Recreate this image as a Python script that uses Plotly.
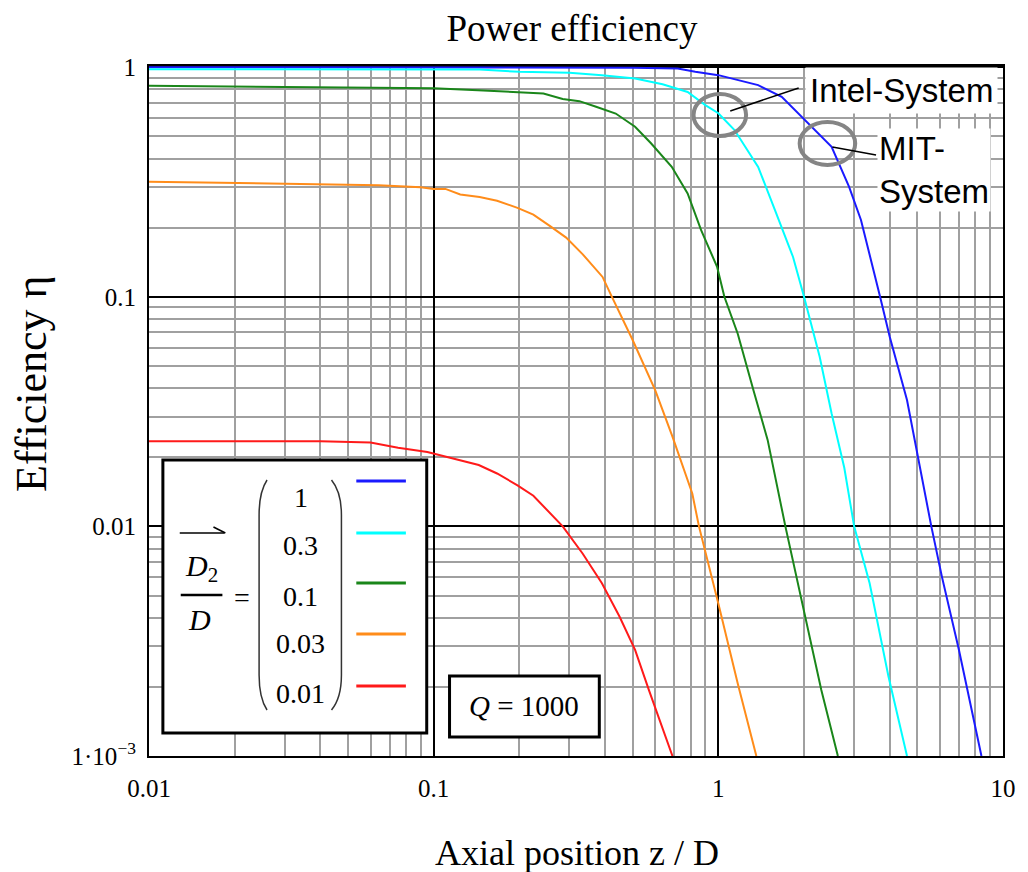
import plotly.graph_objects as go

# ---------------- data ----------------
ratio_labels = ["1", "0.3", "0.1", "0.03", "0.01"]

x_r100 = [0.01, 0.1, 0.3, 0.5, 0.72, 0.83, 1.0, 1.38, 1.67, 2.05, 2.5, 2.88, 3.17, 3.7, 4.0, 4.6, 5.0, 5.6, 6.1, 7.0, 8.4]
y_r100 = [1.0, 1.0, 0.998, 0.995, 0.987, 0.954, 0.923, 0.835, 0.743, 0.578, 0.45, 0.301, 0.216, 0.1, 0.067, 0.0355, 0.0208, 0.01, 0.00604, 0.0029, 0.001]

x_r030 = [0.01, 0.1, 0.145, 0.2, 0.3, 0.39, 0.51, 0.637, 0.78, 0.9, 1.0, 1.14, 1.38, 1.58, 1.83, 2.0, 2.27, 2.5, 2.77, 3.0, 3.4, 3.96, 4.6]
y_r030 = [0.98, 0.98, 0.977, 0.954, 0.945, 0.923, 0.893, 0.843, 0.78, 0.683, 0.63, 0.532, 0.368, 0.239, 0.149, 0.1, 0.0548, 0.031, 0.018, 0.01, 0.00565, 0.00222, 0.001]

x_r010 = [0.01, 0.075, 0.1, 0.143, 0.197, 0.243, 0.284, 0.325, 0.372, 0.436, 0.51, 0.58, 0.686, 0.78, 0.87, 0.99, 1.05, 1.17, 1.33, 1.49, 1.72, 2.0, 2.3, 2.63]
y_r010 = [0.83, 0.81, 0.81, 0.794, 0.776, 0.768, 0.726, 0.711, 0.672, 0.628, 0.55, 0.466, 0.368, 0.282, 0.195, 0.135, 0.1, 0.069, 0.039, 0.0238, 0.01, 0.0042, 0.00194, 0.001]

x_r003 = [0.01, 0.064, 0.09, 0.1, 0.11, 0.124, 0.145, 0.167, 0.197, 0.224, 0.255, 0.292, 0.334, 0.392, 0.42, 0.5, 0.6, 0.69, 0.81, 0.855, 1.0, 1.17, 1.36]
y_r003 = [0.317, 0.306, 0.30, 0.295, 0.295, 0.279, 0.272, 0.262, 0.244, 0.228, 0.204, 0.181, 0.153, 0.122, 0.1016, 0.0648, 0.0392, 0.0246, 0.0139, 0.01, 0.00462, 0.00207, 0.001]

x_r001 = [0.01, 0.04, 0.06, 0.075, 0.095, 0.115, 0.144, 0.167, 0.197, 0.224, 0.25, 0.284, 0.334, 0.39, 0.45, 0.51, 0.57, 0.69]
y_r001 = [0.0235, 0.0235, 0.0232, 0.022, 0.0211, 0.0198, 0.0185, 0.017, 0.0151, 0.0136, 0.0118, 0.01, 0.0076, 0.00565, 0.00404, 0.0029, 0.00194, 0.001]

colors = ["#1a1aff", "#00ffff", "#1a861a", "#ff8c1a", "#ff1a1a"]

x_ticks = [0.01, 0.1, 1, 10]
x_ticktext = ["0.01", "0.1", "1", "10"]
y_ticks = [0.001, 0.01, 0.1, 1]
y_ticktext = ["1\u00b710<sup>\u22123</sup>", "0.01", "0.1", "1"]

# ---------------- figure ----------------
# the page body adds an 8 px margin, so the figure is 8 px smaller and all
# decoration positions below are given in page pixels
OFF = 8
W, H = 1020, 864
L, R, T, B = 141, 18, 58, 116
PL, PR, PT, PB = L + OFF, W - R + OFF, T + OFF, H - B + OFF   # plot box in page pixels

def X(px):
    return (px - PL) / (PR - PL)

def Y(py):
    return (PB - py) / (PB - PT)

serif = "Liberation Serif, Times New Roman, serif"
sans = "Liberation Sans, Arial, sans-serif"

fig = go.Figure()
series = [(x_r100, y_r100), (x_r030, y_r030), (x_r010, y_r010), (x_r003, y_r003), (x_r001, y_r001)]
for (xs, ys), lab, c in zip(series, ratio_labels, colors):
    fig.add_trace(go.Scatter(x=xs, y=ys, mode="lines", name="D2/D = " + lab,
                             line=dict(color=c, width=2), showlegend=False))

minor_x = [m * 10 ** e for e in (-2, -1, 0) for m in range(2, 10)]
minor_y = [m * 10 ** e for e in (-3, -2, -1) for m in range(2, 10)]

tick_font = dict(family=serif, size=25, color="black")

fig.update_xaxes(type="log", range=[-2, 1], tickmode="array", tickvals=x_ticks, ticktext=x_ticktext,
                 showgrid=True, gridcolor="black", gridwidth=2,
                 showline=True, linecolor="black", linewidth=2, mirror=True,
                 ticks="", zeroline=False, layer="below traces",
                 tickfont=tick_font, ticklabelstandoff=9,
                 minor=dict(tickmode="array", tickvals=minor_x, showgrid=True, gridcolor="#a0a0a0",
                            gridwidth=1.5, ticks=""))
fig.update_yaxes(type="log", range=[-3, 0.005], tickmode="array", tickvals=y_ticks, ticktext=y_ticktext,
                 showgrid=True, gridcolor="black", gridwidth=2,
                 showline=True, linecolor="black", linewidth=2, mirror=True,
                 ticks="", zeroline=False, layer="below traces",
                 tickfont=tick_font, ticklabelstandoff=6,
                 minor=dict(tickmode="array", tickvals=minor_y, showgrid=True, gridcolor="#a0a0a0",
                            gridwidth=1.5, ticks=""))

shapes = []
annotations = []

# legend box
shapes.append(dict(type="rect", xref="paper", yref="paper", x0=X(163), x1=X(429), y0=Y(733), y1=Y(460),
                   line=dict(color="black", width=3), fillcolor="white", layer="above"))
# Q box
shapes.append(dict(type="rect", xref="paper", yref="paper", x0=X(452), x1=X(603), y0=Y(737), y1=Y(676),
                   line=dict(color="black", width=3), fillcolor="white", layer="above"))

# legend colour samples and matrix values
leg_y = [481, 533, 583, 634, 686]
val_y = [497, 545, 596, 643, 693]
for c, ly, vy, lab in zip(colors, leg_y, val_y, ratio_labels):
    shapes.append(dict(type="line", xref="paper", yref="paper", x0=X(358), x1=X(408), y0=Y(ly), y1=Y(ly),
                       line=dict(color=c, width=3), layer="above"))
    annotations.append(dict(text=lab, xref="paper", yref="paper", x=X(302), y=Y(vy), showarrow=False,
                            xanchor="center", yanchor="middle", font=dict(family=serif, size=28, color="black")))

def path(points):
    (x0, y0), rest = points[0], points[1:]
    s = f"M {X(x0)},{Y(y0)}"
    for cmd, pts in rest:
        s += " " + cmd + " " + " ".join(f"{X(a)},{Y(b)}" for a, b in pts)
    return s

lp = path([(268, 480), ("Q", [(260, 492), (260, 515)]), ("L", [(260, 675)]), ("Q", [(260, 698), (268, 710)])])
rp = path([(333, 480), ("Q", [(343, 492), (343, 515)]), ("L", [(343, 675)]), ("Q", [(343, 698), (333, 710)])])
for p in (lp, rp):
    shapes.append(dict(type="path", xref="paper", yref="paper", path=p,
                       line=dict(color="#333333", width=1.5), layer="above"))

# fraction D2 / D with vector arrow
shapes.append(dict(type="line", xref="paper", yref="paper", x0=X(181), x1=X(223), y0=Y(595), y1=Y(595),
                   line=dict(color="black", width=2.5), layer="above"))
shapes.append(dict(type="line", xref="paper", yref="paper", x0=X(180), x1=X(225), y0=Y(533), y1=Y(533),
                   line=dict(color="black", width=1.5), layer="above"))
shapes.append(dict(type="path", xref="paper", yref="paper",
                   path=path([(214, 527), ("L", [(226, 533), (214, 539)])]),
                   line=dict(color="black", width=1.5), layer="above"))
annotations.append(dict(text="<i>D</i><sub>2</sub>", xref="paper", yref="paper", x=X(202), y=Y(568),
                        showarrow=False, xanchor="center", yanchor="middle",
                        font=dict(family=serif, size=30, color="black")))
annotations.append(dict(text="<i>D</i>", xref="paper", yref="paper", x=X(200), y=Y(619),
                        showarrow=False, xanchor="center", yanchor="middle",
                        font=dict(family=serif, size=30, color="black")))
annotations.append(dict(text="=", xref="paper", yref="paper", x=X(243), y=Y(597),
                        showarrow=False, xanchor="center", yanchor="middle",
                        font=dict(family=serif, size=28, color="black")))
annotations.append(dict(text="<i>Q</i> = 1000", xref="paper", yref="paper", x=X(527), y=Y(706),
                        showarrow=False, xanchor="center", yanchor="middle",
                        font=dict(family=serif, size=29, color="black")))

# system call-outs
annotations.append(dict(text="Intel-System", xref="paper", yref="paper", x=X(810), y=Y(90),
                        showarrow=False, xanchor="left", yanchor="middle", bgcolor="white", borderpad=4,
                        font=dict(family=sans, size=33, color="black")))
annotations.append(dict(text="MIT-<br>System", xref="paper", yref="paper", x=X(883), y=Y(170),
                        showarrow=False, xanchor="left", yanchor="middle", align="left",
                        bgcolor="white", borderpad=1,
                        font=dict(family=sans, size=33, color="black")))
shapes.append(dict(type="circle", xref="paper", yref="paper", x0=X(698), x1=X(751), y0=Y(136), y1=Y(94),
                   line=dict(color="#858585", width=4), layer="above"))
shapes.append(dict(type="circle", xref="paper", yref="paper", x0=X(805), x1=X(861), y0=Y(165), y1=Y(122),
                   line=dict(color="#858585", width=4), layer="above"))
shapes.append(dict(type="line", xref="paper", yref="paper", x0=X(735), x1=X(804), y0=Y(111), y1=Y(88),
                   line=dict(color="black", width=1.5), layer="above"))
shapes.append(dict(type="line", xref="paper", yref="paper", x0=X(838), x1=X(882), y0=Y(147), y1=Y(155),
                   line=dict(color="black", width=1.5), layer="above"))

# axis titles
annotations.append(dict(text="Axial position z / D", xref="paper", yref="paper", x=X(581), y=Y(853),
                        showarrow=False, xanchor="center", yanchor="middle",
                        font=dict(family=serif, size=36, color="black")))
annotations.append(dict(text="Efficiency \u03b7", xref="paper", yref="paper", x=X(30), y=Y(384),
                        showarrow=False, xanchor="center", yanchor="middle", textangle=-90,
                        font=dict(family=serif, size=44, color="black")))

fig.update_layout(
    width=W, height=H,
    margin=dict(l=L, r=R, t=T, b=B, pad=0),
    paper_bgcolor="white", plot_bgcolor="white",
    title=dict(text="Power efficiency", x=(572 - OFF) / W, xanchor="center", y=1 - (28 - OFF) / H,
               yanchor="middle", font=dict(family=serif, size=37, color="black")),
    shapes=shapes, annotations=annotations, showlegend=False,
)

fig.write_html("out.html")
